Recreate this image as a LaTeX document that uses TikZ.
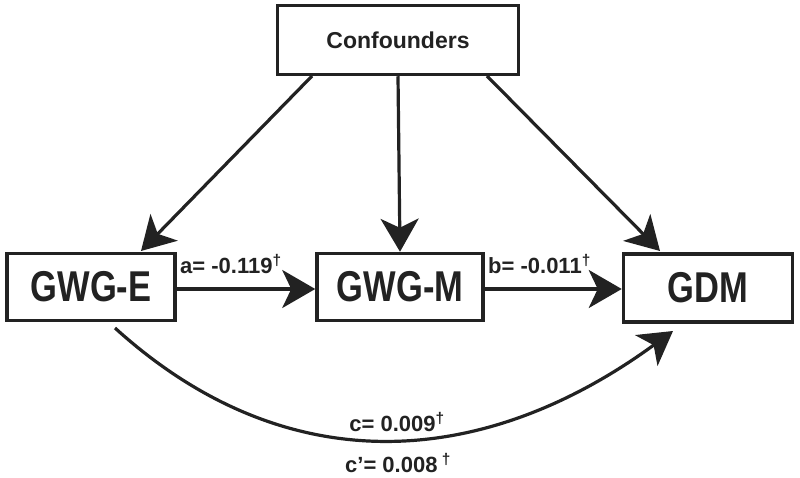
\documentclass[tikz,border=0pt]{standalone}
\usepackage{fontspec}
\setmainfont{Liberation Sans}
\usetikzlibrary{arrows.meta}
\definecolor{ink}{HTML}{222222}
\begin{document}
\begin{tikzpicture}[x=1pt,y=-1pt,
  every node/.style={text=ink},
  box/.style={draw=ink,line width=3.5pt,inner sep=0pt,fill=white},
  conn/.style={draw=ink,line width=3.2pt,-{Stealth[length=33pt,width=38pt,inset=9pt]}},
  lbl/.style={font=\fontsize{22}{25}\selectfont\bfseries,inner sep=0pt},
  bigtxt/.style={font=\fontsize{34.5}{38}\selectfont\bfseries}]
\useasboundingbox (0,0) rectangle (800,478);
\node[box,minimum width=241pt,minimum height=69pt] (conf) at (398,40) {\fontsize{23}{26}\selectfont\bfseries Confounders};
\node[box,bigtxt,minimum width=168pt,minimum height=67pt] (e) at (91,287) {\scalebox{1}[1.25]{GWG-E}};
\node[box,bigtxt,minimum width=166pt,minimum height=67pt] (m) at (400,287) {\scalebox{1}[1.25]{GWG-M}};
\node[box,bigtxt,minimum width=169pt,minimum height=68pt] (d) at (708,288) {\scalebox{1}[1.25]{GDM}};
\coordinate (c1) at (312,76);
\coordinate (c3) at (487,76);
\coordinate (t1) at (141,251);
\coordinate (t3) at (660,251);
\draw[conn] (c1) -- (t1);
\draw[conn] (conf.south) -- (m.north);
\draw[conn] (c3) -- (t3);
\draw[conn] (e.east |- 0,289) -- (m.west |- 0,289);
\draw[conn] (m.east |- 0,289) -- (d.west |- 0,289);
\coordinate (s) at (115,328);
\coordinate (f) at (673,331);
\draw[conn] (s) .. controls (287,484) and (484,469) .. (f);
\node[lbl,anchor=west] (la) at (180,264) {a= -0.119\textsuperscript{†}};
\node[lbl,anchor=west] (lb) at (488,264) {b= -0.011\textsuperscript{†}};
\node[lbl] (lc) at (397,422) {c= 0.009\textsuperscript{†}};
\node[lbl] (lc2) at (398,463) {c’= 0.008\textsuperscript{ †}};
\end{tikzpicture}
\end{document}
